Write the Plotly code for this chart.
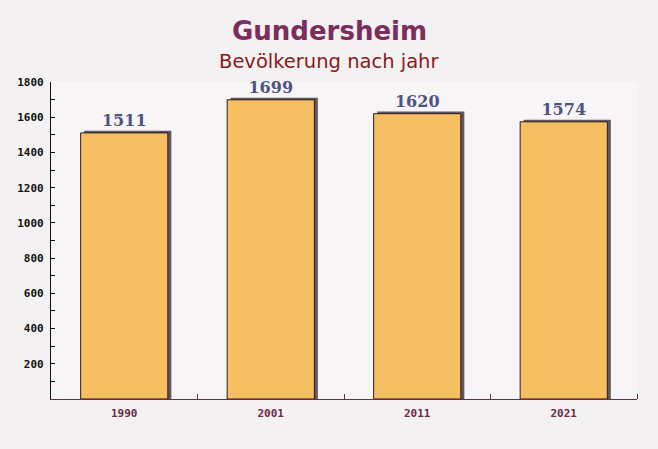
import plotly.graph_objects as go

years = ["1990", "2001", "2011", "2021"]
population = [1511, 1699, 1620, 1574]
y_ticks = [200, 400, 600, 800, 1000, 1200, 1400, 1600, 1800]

x_pos = list(range(len(years)))
bar_w = 0.595
shadow_dx = 0.024   # category units (~3px)
shadow_dy = 12      # data units (~2px)

W, H = 658, 449
ML, MR, MT, MB = 51, 21, 82, 50

fig = go.Figure()

# shadow bars
fig.add_trace(go.Bar(
    x=x_pos, y=[v + shadow_dy for v in population],
    width=bar_w, offset=-bar_w / 2 + shadow_dx,
    marker=dict(color="#5e5863", line=dict(width=0)),
    hoverinfo="skip", showlegend=False,
))
# main bars
fig.add_trace(go.Bar(
    x=x_pos, y=population,
    width=bar_w, offset=-bar_w / 2,
    marker=dict(color="#f6bf62", line=dict(color="#2a1a1a", width=1)),
    text=[str(v) for v in population], textposition="outside",
    textfont=dict(family="DejaVu Serif", size=16, color="#4e5382", weight="bold"),
    cliponaxis=False, showlegend=False,
))

plot_w = W - ML - MR
plot_h = H - MT - MB
cx = (W / 2 - ML) / plot_w

fig.update_layout(
    width=W, height=H,
    margin=dict(l=ML, r=MR, t=MT, b=MB),
    paper_bgcolor="#f4f1f2",
    plot_bgcolor="rgba(250,248,249,0.6)",
    barmode="overlay",
    annotations=[
        dict(text="<b>Gundersheim</b>", x=cx, y=(H - MB - 31) / plot_h, xref="paper", yref="paper",
             yanchor="middle", showarrow=False,
             font=dict(family="DejaVu Sans", size=26, color="#7b2d5b")),
        dict(text="Bevölkerung nach jahr", x=cx, y=(H - MB - 62) / plot_h, xref="paper", yref="paper",
             yanchor="middle", showarrow=False,
             font=dict(family="DejaVu Sans", size=19.5, color="#8b1a1a")),
    ],
    xaxis=dict(
        range=[-0.5, 3.5], tickvals=x_pos, ticktext=years,
        showgrid=False, zeroline=False,
        showline=True, linecolor="#6b2a4a", linewidth=1.2,
        ticks="", ticklabelstandoff=4,
        tickfont=dict(family="DejaVu Sans Mono", size=11, color="#6b2a4a", weight="bold"),
        minor=dict(tickvals=[0.5, 1.5, 2.5, 3.5], ticks="inside", ticklen=5, tickcolor="#6b2a4a"),
    ),
    yaxis=dict(
        range=[0, 1800], tickvals=y_ticks,
        showgrid=False, zeroline=False,
        showline=True, linecolor="#111111", linewidth=1.2,
        ticks="inside", ticklen=4, tickcolor="#111111",
        ticklabelstandoff=4,
        tickfont=dict(family="DejaVu Sans Mono", size=11, color="#111111", weight="bold"),
        minor=dict(dtick=100, ticks="inside", ticklen=4, tickcolor="#111111"),
    ),
)

fig.write_html("out.html")
